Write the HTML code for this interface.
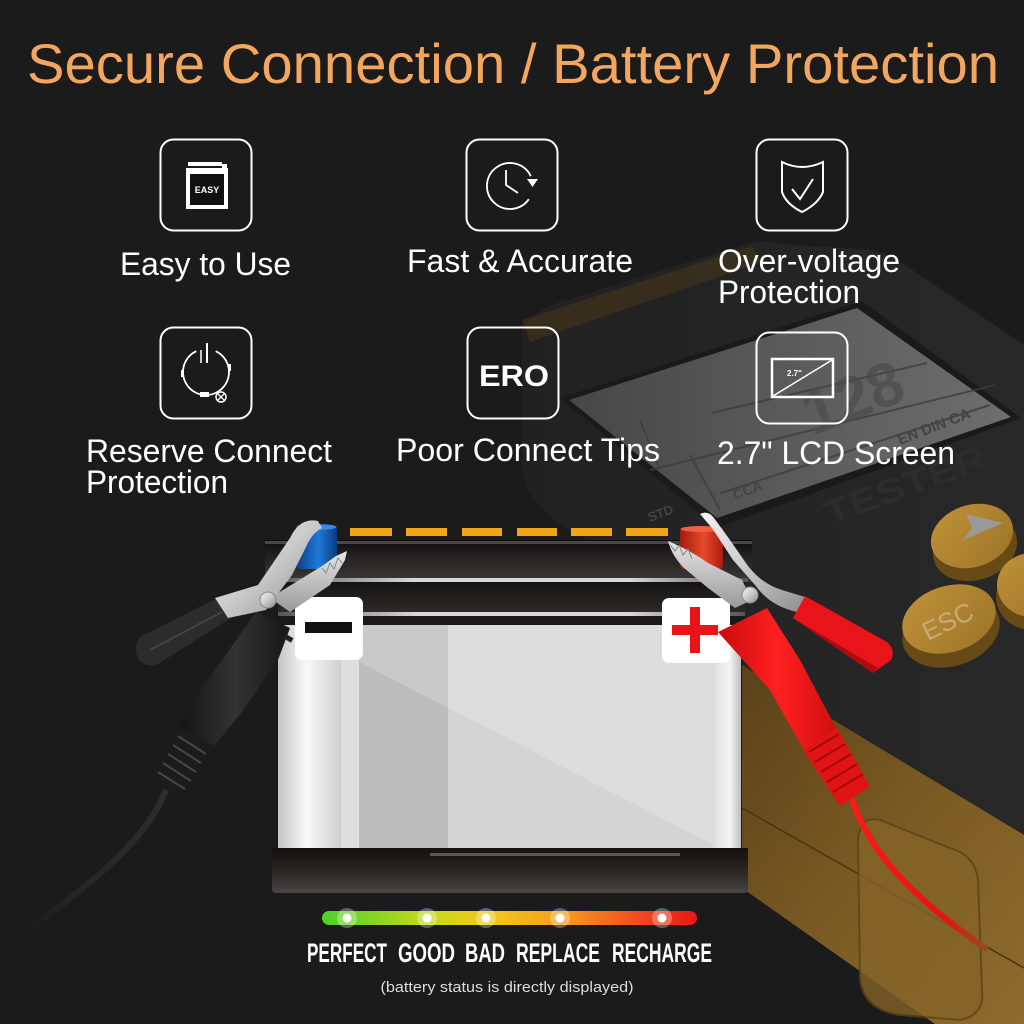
<!DOCTYPE html>
<html><head><meta charset="utf-8"><style>html,body{margin:0;padding:0;background:#1b1b1b;}svg{display:block}</style></head>
<body>
<svg width="1024" height="1024" viewBox="0 0 1024 1024" xmlns="http://www.w3.org/2000/svg">
<defs>
<linearGradient id="bar" x1="0" x2="1">
<stop offset="0" stop-color="#4cd12a"/><stop offset="0.28" stop-color="#c5d81e"/><stop offset="0.45" stop-color="#f2c818"/><stop offset="0.65" stop-color="#f79a1c"/><stop offset="0.85" stop-color="#f2481e"/><stop offset="1" stop-color="#e81616"/>
</linearGradient>
<linearGradient id="silver" x1="0" y1="0" x2="1" y2="1">
<stop offset="0" stop-color="#f4f4f4"/><stop offset="0.5" stop-color="#c9c9c9"/><stop offset="1" stop-color="#8e8e8e"/>
</linearGradient>
<linearGradient id="silver2" x1="0" y1="0" x2="0" y2="1">
<stop offset="0" stop-color="#e6e6e6"/><stop offset="1" stop-color="#9a9a9a"/>
</linearGradient>
<linearGradient id="cap" x1="0" y1="0" x2="0" y2="1">
<stop offset="0" stop-color="#0e0e0e"/><stop offset="0.5" stop-color="#2a2626"/><stop offset="1" stop-color="#3c3838"/>
</linearGradient>
<linearGradient id="band" x1="0" y1="0" x2="0" y2="1">
<stop offset="0" stop-color="#151313"/><stop offset="1" stop-color="#2e2a2a"/>
</linearGradient>
<linearGradient id="hl" x1="0" x2="1">
<stop offset="0" stop-color="#555"/><stop offset="0.3" stop-color="#d8d8d8"/><stop offset="0.75" stop-color="#d8d8d8"/><stop offset="1" stop-color="#555"/>
</linearGradient>
<linearGradient id="base" x1="0" y1="0" x2="0" y2="1">
<stop offset="0" stop-color="#141010"/><stop offset="0.6" stop-color="#2e2a2a"/><stop offset="1" stop-color="#4a4646"/>
</linearGradient>
<linearGradient id="lstripe" x1="0" x2="1">
<stop offset="0" stop-color="#c4c4c4"/><stop offset="0.45" stop-color="#f8f8f8"/><stop offset="1" stop-color="#cfcfcf"/>
</linearGradient>
<linearGradient id="rstripe" x1="0" x2="1">
<stop offset="0" stop-color="#dadada"/><stop offset="0.6" stop-color="#f6f6f6"/><stop offset="1" stop-color="#bdbdbd"/>
</linearGradient>
<linearGradient id="yel" x1="0" y1="0" x2="1" y2="1">
<stop offset="0" stop-color="#5a4118"/><stop offset="0.5" stop-color="#7a5a24"/><stop offset="1" stop-color="#8e6c2e"/>
</linearGradient>
<linearGradient id="lcd" x1="0" x2="1">
<stop offset="0" stop-color="#474747"/><stop offset="1" stop-color="#6e6e6e"/>
</linearGradient>
<linearGradient id="face" x1="0" x2="1">
<stop offset="0" stop-color="#212121"/><stop offset="1" stop-color="#282828"/>
</linearGradient>
<linearGradient id="blue" x1="0" x2="1">
<stop offset="0" stop-color="#0a3c8a"/><stop offset="0.55" stop-color="#1e7ad8"/><stop offset="1" stop-color="#0a3a80"/>
</linearGradient>
<linearGradient id="redterm" x1="0" x2="1">
<stop offset="0" stop-color="#a01c0e"/><stop offset="0.55" stop-color="#e84a28"/><stop offset="1" stop-color="#a81c10"/>
</linearGradient>
<linearGradient id="redh" x1="0" x2="1">
<stop offset="0" stop-color="#c80c0c"/><stop offset="0.5" stop-color="#ff2020"/><stop offset="1" stop-color="#d01010"/>
</linearGradient>
<linearGradient id="blackh" x1="0" x2="1">
<stop offset="0" stop-color="#141414"/><stop offset="0.5" stop-color="#333"/><stop offset="1" stop-color="#161616"/>
</linearGradient>
<linearGradient id="cableL" gradientUnits="userSpaceOnUse" x1="165" y1="790" x2="27" y2="930">
<stop offset="0" stop-color="#2e2e2e"/><stop offset="0.7" stop-color="#262626"/><stop offset="1" stop-color="#1b1b1b"/>
</linearGradient>
<linearGradient id="cableR" gradientUnits="userSpaceOnUse" x1="853" y1="800" x2="985" y2="948">
<stop offset="0" stop-color="#ff1a1a"/><stop offset="0.75" stop-color="#e41414"/><stop offset="1" stop-color="#9a4a1a"/>
</linearGradient>
<linearGradient id="btn" x1="0" y1="0" x2="1" y2="1">
<stop offset="0" stop-color="#c09238"/><stop offset="1" stop-color="#9c742a"/>
</linearGradient>
</defs>

<rect width="1024" height="1024" fill="#1b1b1b"/>

<!-- tester device (background) -->
<path d="M522,330 Q530,312 560,302 L750,243 Q765,240 780,244 L870,250 Q890,254 905,265 L1024,345 L1024,842 L742,668 L742,610 L600,545 Q528,515 522,470 Z" fill="url(#face)"/>
<polygon points="522,320 752,246 762,262 530,342" fill="#4a3818" opacity="0.5"/>
<polygon points="560,398 862,301 1021,418 717,528" fill="#1a1a1a"/>
<polygon points="569,400 857,308 1011,417 717,518" fill="url(#lcd)"/>
<g stroke="#3e3e3e" stroke-width="2" fill="none" opacity="0.8">
<line x1="711" y1="413" x2="927" y2="363"/>
<line x1="650" y1="470" x2="995" y2="385"/>
<line x1="721" y1="493" x2="990" y2="405"/>
<line x1="690" y1="455" x2="720" y2="510"/>
<line x1="640" y1="420" x2="660" y2="470"/>
</g>
<g font-family="'Liberation Sans',sans-serif" fill="#444" font-weight="bold">
<text x="900" y="445" font-size="15" transform="rotate(-21 900 445)">EN DIN CA</text>
<text x="735" y="500" font-size="14" transform="rotate(-21 735 500)">CCA</text>
<text x="650" y="522" font-size="13" transform="rotate(-21 650 522)">STD</text>
<text x="812" y="436" font-size="62" fill="#4e4e4e" opacity="0.8" transform="rotate(-21 812 436)">128</text>
</g>
<text x="905" y="497" font-family="'Liberation Sans',sans-serif" font-size="34" font-weight="bold" fill="#2d2d2d" text-anchor="middle" textLength="170" lengthAdjust="spacingAndGlyphs" transform="rotate(-20 905 485)">TESTER</text>

<!-- buttons -->
<g>
<ellipse cx="975" cy="548" rx="43" ry="32" fill="#684a16" transform="rotate(-18 975 548)"/>
<ellipse cx="972" cy="536" rx="42" ry="31" fill="url(#btn)" transform="rotate(-18 972 536)"/>
<polygon points="963,540 1003,523 966,514 972,528" fill="#9a9a9a"/>
<ellipse cx="1032" cy="597" rx="36" ry="33" fill="#684a16"/>
<ellipse cx="1032" cy="585" rx="35" ry="32" fill="url(#btn)"/>
<ellipse cx="951" cy="631" rx="50" ry="35" fill="#684a16" transform="rotate(-18 951 631)"/>
<ellipse cx="949" cy="619" rx="48" ry="33" fill="url(#btn)" transform="rotate(-18 949 619)"/>
<text x="949" y="630" font-family="'Liberation Sans',sans-serif" font-size="26" fill="#c9a974" text-anchor="middle" transform="rotate(-26 949 624)">ESC</text>
</g>

<!-- yellow side of tester -->
<polygon points="742,665 1024,835 1024,1024 935,1024 742,888" fill="url(#yel)"/>
<line x1="742" y1="808" x2="1024" y2="968" stroke="#4a3510" stroke-width="1.5"/>
<path d="M880,820 Q860,815 858,840 L860,980 Q864,1010 900,1015 L960,1020 Q985,1015 982,990 L978,880 Q975,855 950,848 Z" fill="#846428" stroke="#5c4416" stroke-width="2" opacity="0.8"/>

<!-- battery top cap -->
<rect x="265" y="540" width="487" height="42" fill="url(#cap)"/>
<rect x="265" y="541" width="487" height="3" fill="#4a4646"/>
<rect x="270" y="578" width="478" height="4" fill="url(#hl)"/>
<rect x="278" y="582" width="467" height="31" fill="url(#band)"/>
<rect x="278" y="612" width="467" height="4" fill="url(#hl)"/>
<rect x="278" y="616" width="467" height="9" fill="#1a1818"/>

<!-- dashes -->
<g fill="#f2a516">
<rect x="350" y="528" width="42" height="8"/>
<rect x="406" y="528" width="41" height="8"/>
<rect x="462" y="528" width="40" height="8"/>
<rect x="517" y="528" width="40" height="8"/>
<rect x="571" y="528" width="41" height="8"/>
<rect x="626" y="528" width="42" height="8"/>
</g>
<!-- terminals -->
<rect x="296" y="525" width="41" height="44" rx="4" fill="url(#blue)"/>
<ellipse cx="316.5" cy="527" rx="20" ry="3" fill="#3a8ae0"/>
<rect x="680" y="527" width="43" height="42" rx="4" fill="url(#redterm)"/>
<ellipse cx="701.5" cy="529" rx="21" ry="3" fill="#f06040"/>

<!-- body -->
<rect x="278" y="625" width="463" height="224" fill="#d4d4d4"/>
<rect x="359" y="625" width="89" height="224" fill="#bcbcbc"/>
<polygon points="359,625 741,625 741,848 720,848 359,662" fill="#ffffff" opacity="0.2"/>
<rect x="278" y="625" width="63" height="224" fill="url(#lstripe)"/>
<rect x="341" y="625" width="18" height="224" fill="#dedede"/>
<rect x="712" y="625" width="29" height="224" fill="url(#rstripe)"/>
<!-- base -->
<path d="M272,848 L748,848 L748,889 Q748,893 744,893 L276,893 Q272,893 272,889 Z" fill="url(#base)"/>
<rect x="430" y="853" width="250" height="3" fill="#6a6666" opacity="0.8"/>

<!-- terminal labels -->
<rect x="295" y="597" width="68" height="63" rx="7" fill="#ffffff"/>
<rect x="305" y="622" width="47" height="11" fill="#111"/>
<rect x="662" y="598" width="68" height="65" rx="7" fill="#ffffff"/>
<rect x="672" y="625" width="46" height="10" fill="#e8141a"/>
<rect x="690" y="607" width="10" height="46" fill="#e8141a"/>

<!-- left (black) clamp -->
<path d="M165,792 C150,830 110,872 27,930" fill="none" stroke="url(#cableL)" stroke-width="6" stroke-linecap="round"/>
<path d="M140,637 L217,598 L231,618 L158,664 Q146,669 138,659 Q133,646 140,637 Z" fill="#2c2c2c"/>
<path d="M150,650 L222,612" stroke="#444" stroke-width="2"/>
<path d="M318,521 Q300,517 290,538 L258,585 L215,598 L228,618 L266,610 L292,575 L306,547 Q312,533 322,528 Z" fill="url(#silver)"/>
<path d="M256,612 L290,628 L278,660 L242,712 L214,746 L180,727 L202,688 Z" fill="url(#blackh)"/>
<rect x="285" y="636" width="8" height="5" fill="#222" transform="rotate(30 289 638)"/>
<path d="M180,727 L214,746 L190,790 L178,798 L152,778 L160,760 Z" fill="#1c1c1c"/>
<g stroke="#474747" stroke-width="2">
<line x1="178" y1="736" x2="206" y2="754"/>
<line x1="173" y1="745" x2="201" y2="763"/>
<line x1="168" y1="754" x2="196" y2="772"/>
<line x1="163" y1="763" x2="191" y2="781"/>
<line x1="158" y1="772" x2="185" y2="789"/>
</g>
<path d="M270,598 L322,566 L336,556 L347,551 L345,560 L330,585 L290,612 Z" fill="url(#silver2)"/>
<polyline points="322,568 326,573 330,563 334,569 338,558 342,563" fill="none" stroke="#888" stroke-width="1"/>
<circle cx="268" cy="600" r="8" fill="url(#silver)" stroke="#8a8a8a" stroke-width="1"/>

<!-- right (red) clamp -->
<path d="M852,800 C870,850 905,892 985,948" fill="none" stroke="url(#cableR)" stroke-width="6" stroke-linecap="round"/>
<path d="M668,541 Q690,550 708,563 L742,580 L752,600 L735,608 L708,588 L684,568 Q672,556 668,541 Z" fill="url(#silver2)"/>
<polyline points="670,545 675,551 679,545 683,555 688,549 692,559" fill="none" stroke="#888" stroke-width="1"/>
<path d="M700,514 Q708,510 714,518 L730,540 L748,566 Q762,584 782,590 L805,597 L797,612 Q770,606 755,585 L733,560 L712,528 Q705,520 700,514 Z" fill="url(#silver)"/>
<path d="M805,596 L887,642 Q896,650 891,660 L873,673 L793,618 Z" fill="#e8141a"/>
<path d="M800,622 L878,668 L873,673 L793,618 Z" fill="#b00c10"/>
<path d="M718,632 L767,608 L800,660 L836,728 L805,752 L770,690 Z" fill="url(#redh)"/>
<path d="M803,750 L837,728 L870,786 L840,806 Z" fill="#e01414"/>
<g stroke="#a00a0a" stroke-width="2">
<line x1="809" y1="752" x2="839" y2="734"/>
<line x1="815" y1="762" x2="845" y2="744"/>
<line x1="821" y1="772" x2="851" y2="754"/>
<line x1="827" y1="782" x2="857" y2="764"/>
<line x1="833" y1="792" x2="863" y2="774"/>
</g>
<circle cx="750" cy="595" r="8" fill="url(#silver)" stroke="#8a8a8a" stroke-width="1"/>

<!-- title -->
<text x="27" y="83" font-family="'Liberation Sans',Arial,sans-serif" font-size="56" fill="#f3a65e" textLength="972" lengthAdjust="spacingAndGlyphs">Secure Connection / Battery Protection</text>

<!-- icon boxes -->
<g fill="none" stroke="#ffffff" stroke-width="2">
<rect x="160.5" y="139.5" width="91" height="91" rx="13"/>
<rect x="466.5" y="139.5" width="91" height="91" rx="13"/>
<rect x="756.5" y="139.5" width="91" height="91" rx="13"/>
<rect x="160.5" y="327.5" width="91" height="91" rx="13"/>
<rect x="467.5" y="327.5" width="91" height="91" rx="13"/>
<rect x="756.5" y="332.5" width="91" height="91" rx="13"/>
</g>

<!-- icon 1 EASY -->
<rect x="188" y="162" width="34" height="4" fill="#fff"/>
<rect x="222" y="164" width="5" height="9" fill="#fff"/>
<rect x="186" y="168" width="42" height="41" fill="#fff"/>
<rect x="190" y="174" width="34" height="31" fill="#111"/>
<text x="207" y="193" font-family="'Liberation Sans',sans-serif" font-size="9" font-weight="bold" fill="#fff" text-anchor="middle">EASY</text>

<!-- icon 2 clock -->
<path d="M530.8,176.3 A23,23 0 1 0 528.8,199.2" fill="none" stroke="#fff" stroke-width="1.8"/>
<polygon points="527,179 538,179 532.5,187" fill="#fff"/>
<polyline points="506,170 506,185 518,193" fill="none" stroke="#fff" stroke-width="1.8"/>

<!-- icon 3 shield -->
<path d="M782,162 Q802,172 823,162 L823,192 Q818,204 802,212 Q786,204 782,192 Z" fill="none" stroke="#fff" stroke-width="2"/>
<polyline points="792,189 800,199 813,179" fill="none" stroke="#fff" stroke-width="2"/>

<!-- icon 4 power -->
<path d="M196.3,351.2 A23,23 0 1 0 215.7,351.2" fill="none" stroke="#fff" stroke-width="1.8"/>
<line x1="207" y1="343" x2="207" y2="363" stroke="#fff" stroke-width="2"/>
<line x1="201" y1="350" x2="201" y2="363" stroke="#fff" stroke-width="1.5"/>
<rect x="181" y="370" width="3" height="7" fill="#fff"/>
<rect x="228" y="364" width="3" height="7" fill="#fff"/>
<rect x="200" y="392" width="9" height="5" fill="#fff"/>
<circle cx="221" cy="397" r="5" fill="#1b1b1b" stroke="#fff" stroke-width="1.5"/>
<path d="M218,394 L224,400 M224,394 L218,400" stroke="#fff" stroke-width="1.3"/>

<!-- icon 5 ERO -->
<text x="514" y="386" font-family="'Liberation Sans',sans-serif" font-size="30" font-weight="bold" fill="#fff" text-anchor="middle" textLength="70" lengthAdjust="spacingAndGlyphs">ERO</text>

<!-- icon 6 screen -->
<rect x="772" y="359" width="61" height="38" fill="none" stroke="#fff" stroke-width="2.5"/>
<line x1="773" y1="396" x2="832" y2="360" stroke="#fff" stroke-width="1.5"/>
<text x="787" y="376" font-family="'Liberation Sans',sans-serif" font-size="8" font-weight="bold" fill="#fff">2.7"</text>

<!-- labels -->
<g font-family="'Liberation Sans',Arial,sans-serif" font-size="32" fill="#ffffff">
<text x="120" y="275" textLength="171" lengthAdjust="spacingAndGlyphs">Easy to Use</text>
<text x="407" y="272" textLength="226" lengthAdjust="spacingAndGlyphs">Fast &amp; Accurate</text>
<text x="718" y="272" textLength="182" lengthAdjust="spacingAndGlyphs">Over-voltage</text>
<text x="718" y="303" textLength="142" lengthAdjust="spacingAndGlyphs">Protection</text>
<text x="86" y="462" textLength="246" lengthAdjust="spacingAndGlyphs">Reserve Connect</text>
<text x="86" y="493" textLength="142" lengthAdjust="spacingAndGlyphs">Protection</text>
<text x="396" y="461" textLength="264" lengthAdjust="spacingAndGlyphs">Poor Connect Tips</text>
<text x="717" y="464" textLength="238" lengthAdjust="spacingAndGlyphs">2.7" LCD Screen</text>
</g>

<!-- status bar -->
<rect x="322" y="911" width="375" height="14" rx="7" fill="url(#bar)"/>
<g fill="#ffffff">
<circle cx="347" cy="918" r="10" opacity="0.3"/><circle cx="347" cy="918" r="4.5"/>
<circle cx="427" cy="918" r="10" opacity="0.3"/><circle cx="427" cy="918" r="4.5"/>
<circle cx="486" cy="918" r="10" opacity="0.3"/><circle cx="486" cy="918" r="4.5"/>
<circle cx="560" cy="918" r="10" opacity="0.3"/><circle cx="560" cy="918" r="4.5"/>
<circle cx="662" cy="918" r="10" opacity="0.3"/><circle cx="662" cy="918" r="4.5"/>
</g>
<g font-family="'Liberation Sans Narrow','Liberation Sans',sans-serif" font-size="27" font-weight="bold" fill="#ffffff">
<text x="307" y="962" textLength="80" lengthAdjust="spacingAndGlyphs">PERFECT</text>
<text x="398" y="962" textLength="57" lengthAdjust="spacingAndGlyphs">GOOD</text>
<text x="465" y="962" textLength="40" lengthAdjust="spacingAndGlyphs">BAD</text>
<text x="516" y="962" textLength="84" lengthAdjust="spacingAndGlyphs">REPLACE</text>
<text x="612" y="962" textLength="100" lengthAdjust="spacingAndGlyphs">RECHARGE</text>
</g>
<text x="507" y="992" font-family="'Liberation Sans',sans-serif" font-size="15" fill="#dddddd" text-anchor="middle" textLength="253" lengthAdjust="spacingAndGlyphs">(battery status is directly displayed)</text>
</svg>
</body></html>
